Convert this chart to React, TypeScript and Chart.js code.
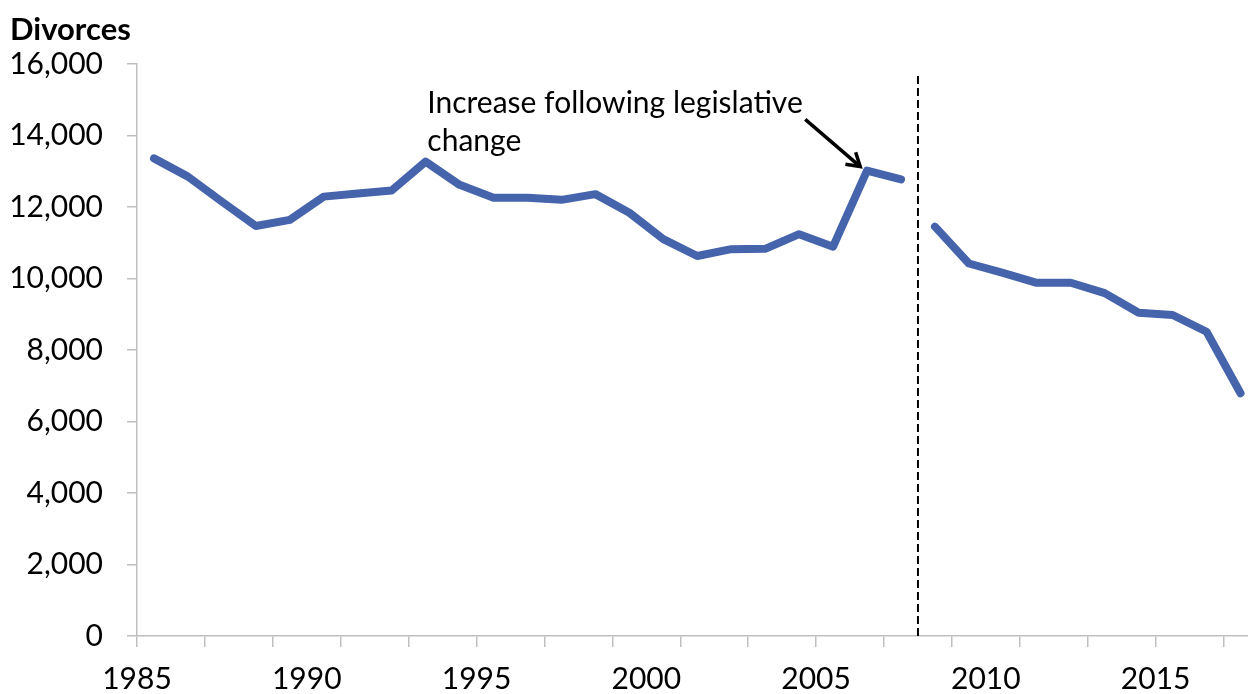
import { useEffect, useRef } from "react";
import { Chart, registerables } from "chart.js";

Chart.register(...registerables);

// Annual divorce counts, 1985–2017
const years = [
  1985, 1986, 1987, 1988, 1989, 1990, 1991, 1992, 1993, 1994, 1995, 1996, 1997,
  1998, 1999, 2000, 2001, 2002, 2003, 2004, 2005, 2006, 2007, 2008, 2009, 2010,
  2011, 2012, 2013, 2014, 2015, 2016, 2017,
];
const divorces = [
  13360, 12850, 12150, 11470, 11640, 12290, 12380, 12460, 13270, 12620, 12260,
  12260, 12200, 12360, 11840, 11100, 10630, 10820, 10830, 11240, 10890, 13020,
  12770, 11450, 10420, 10160, 9880, 9880, 9590, 9040, 8980, 8510, 6790,
];

// The series is broken (and marked with a dashed rule) where the basis changes
const seriesBreakYear = 2008;

const yAxisMin = 0;
const yAxisMax = 16000;
const yAxisStep = 2000;
const xAxisMin = 1985;
const xAxisMax = 2017.72;
const xLabelYears = [1985, 1990, 1995, 2000, 2005, 2010, 2015];

const yAxisTitle = "Divorces";
const noteLines = ["Increase following legislative", "change"];
// Note position and arrow, in data units (year, divorces)
const noteAnchor = { x: 1993.55, y: 14620 };
const arrowFrom = { x: 2004.68, y: 14450 };
const arrowTo = { x: 2006.3, y: 13130 };

const FONT = "Lato, 'Open Sans', sans-serif";
const LINE_COLOR = "#4664AC";
const AXIS_COLOR = "#BFBFBF";

// Each annual value is plotted at the middle of its year
const points = years.map((yr, i) => ({ x: yr + 0.5, y: divorces[i], yr }));
const beforeBreak = points.filter((p) => p.yr < seriesBreakYear);
const afterBreak = points.filter((p) => p.yr >= seriesBreakYear);

const annotations = {
  id: "annotations",
  afterDatasetsDraw(chart: any) {
    const { ctx, scales, chartArea } = chart;
    const xs = scales.x;
    const ys = scales.y;
    ctx.save();

    // dashed rule at the break
    const bx = xs.getPixelForValue(seriesBreakYear);
    ctx.strokeStyle = "#000";
    ctx.lineWidth = 2;
    ctx.setLineDash([8, 4]);
    ctx.beginPath();
    ctx.moveTo(bx, chartArea.bottom);
    ctx.lineTo(bx, chartArea.top + 12);
    ctx.stroke();
    ctx.setLineDash([]);

    // axis title
    ctx.fillStyle = "#000";
    ctx.font = `bold 31px ${FONT}`;
    ctx.textAlign = "left";
    ctx.textBaseline = "alphabetic";
    ctx.fillText(yAxisTitle, 10, 40);

    // note text
    ctx.font = `30px ${FONT}`;
    const tx = xs.getPixelForValue(noteAnchor.x);
    const ty = ys.getPixelForValue(noteAnchor.y);
    noteLines.forEach((line, i) => ctx.fillText(line, tx, ty + i * 38));

    // arrow
    const x1 = xs.getPixelForValue(arrowFrom.x);
    const y1 = ys.getPixelForValue(arrowFrom.y);
    const x2 = xs.getPixelForValue(arrowTo.x);
    const y2 = ys.getPixelForValue(arrowTo.y);
    const ang = Math.atan2(y2 - y1, x2 - x1);
    const head = 15;
    ctx.strokeStyle = "#000";
    ctx.lineWidth = 3.5;
    ctx.lineCap = "butt";
    ctx.lineJoin = "miter";
    ctx.beginPath();
    ctx.moveTo(x1, y1);
    ctx.lineTo(x2, y2);
    ctx.stroke();
    ctx.beginPath();
    ctx.moveTo(x2 - head * Math.cos(ang - 0.55), y2 - head * Math.sin(ang - 0.55));
    ctx.lineTo(x2, y2);
    ctx.lineTo(x2 - head * Math.cos(ang + 0.55), y2 - head * Math.sin(ang + 0.55));
    ctx.stroke();

    ctx.restore();
  },
};

export default function App() {
  const canvasRef = useRef<HTMLCanvasElement | null>(null);

  useEffect(() => {
    if (!canvasRef.current) return;
    const lineStyle = {
      borderColor: LINE_COLOR,
      backgroundColor: LINE_COLOR,
      borderWidth: 8,
      borderCapStyle: "round" as const,
      borderJoinStyle: "round" as const,
      pointRadius: 0,
      tension: 0,
      fill: false,
    };
    const chart = new Chart(canvasRef.current, {
      type: "line",
      data: {
        datasets: [
          { ...lineStyle, label: "Divorces", data: beforeBreak },
          { ...lineStyle, label: "Divorces (new basis)", data: afterBreak },
        ],
      },
      plugins: [annotations],
      options: {
        animation: false,
        responsive: false,
        maintainAspectRatio: false,
        layout: { padding: { top: 64, right: 0, bottom: 0, left: 0 } },
        plugins: {
          legend: { display: false },
          tooltip: { enabled: false },
        },
        scales: {
          x: {
            type: "linear",
            min: xAxisMin,
            max: xAxisMax,
            afterBuildTicks: (scale: any) => {
              scale.ticks = years.map((v) => ({ value: v }));
            },
            afterFit: (scale: any) => {
              scale.height = 58;
            },
            border: { display: true, color: AXIS_COLOR, width: 1.5 },
            grid: {
              display: true,
              drawOnChartArea: false,
              drawTicks: true,
              tickLength: 11,
              lineWidth: 1.5,
              color: (ctx: any) =>
                ctx.tick && ctx.tick.value % 2 === 1 ? AXIS_COLOR : "rgba(0,0,0,0)",
            },
            ticks: {
              autoSkip: false,
              maxRotation: 0,
              minRotation: 0,
              padding: 14,
              color: "#000",
              font: { family: FONT, size: 30 },
              callback: (v: any) => (xLabelYears.includes(Number(v)) ? String(v) : ""),
            },
          },
          y: {
            type: "linear",
            min: yAxisMin,
            max: yAxisMax,
            afterFit: (scale: any) => {
              scale.width = 137;
            },
            border: { display: true, color: AXIS_COLOR, width: 1.5 },
            grid: {
              display: true,
              drawOnChartArea: false,
              drawTicks: true,
              tickLength: 10,
              lineWidth: 1.5,
              color: AXIS_COLOR,
            },
            ticks: {
              stepSize: yAxisStep,
              padding: 24,
              color: "#000",
              font: { family: FONT, size: 30 },
              callback: (v: any) => Number(v).toLocaleString("en-US"),
            },
          },
        },
      },
    });
    return () => chart.destroy();
  }, []);

  return (
    <div style={{ position: "absolute", left: 0, top: 0, width: 1248, height: 694, background: "#fff" }}>
      <canvas ref={canvasRef} width={1248} height={694} />
    </div>
  );
}
